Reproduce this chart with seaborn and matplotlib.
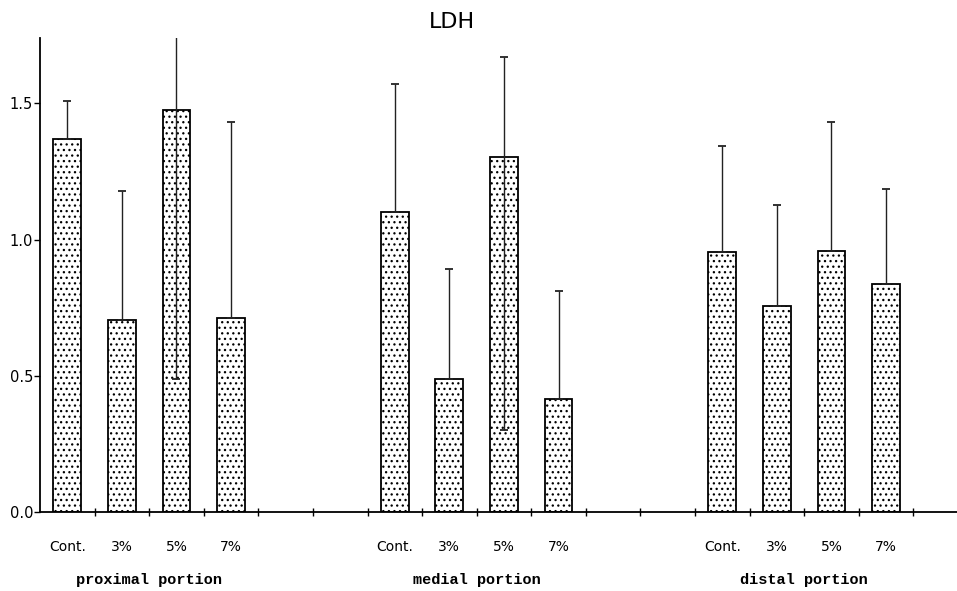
import numpy as np
import pandas as pd
import matplotlib
matplotlib.use('Agg')
import matplotlib.pyplot as plt
import matplotlib.transforms as mtransforms
import seaborn as sns

# values (LDH activity, bars = mean, whiskers = error)
portions = ['proximal portion', 'medial portion', 'distal portion']
concs = ['Cont.', '3%', '5%', '7%']
prox_mean = [1.368, 0.704, 1.474, 0.711]
med_mean = [1.100, 0.488, 1.305, 0.414]
dist_mean = [0.953, 0.755, 0.957, 0.836]
prox_err_up = [0.139, 0.473, 0.986, 0.719]
med_err_up = [0.470, 0.403, 0.367, 0.396]
dist_err_up = [0.389, 0.371, 0.473, 0.348]
prox_err_down = [0.0, 0.0, 0.986, 0.0]
med_err_down = [0.0, 0.0, 1.005, 0.0]
dist_err_down = [0.0, 0.0, 0.0, 0.0]

sns.set_theme(style='white')
plt.rcParams['font.family'] = ['DejaVu Sans']
plt.rcParams['text.color'] = 'black'
plt.rcParams['hatch.linewidth'] = 0.9

# build long table, each portion gets 4 slots then a 2 slot gap
rows = []
means = [prox_mean, med_mean, dist_mean]
ups = [prox_err_up, med_err_up, dist_err_up]
downs = [prox_err_down, med_err_down, dist_err_down]
for g, portion in enumerate(portions):
    for i, c in enumerate(concs):
        rows.append({'portion': portion, 'conc': c, 'pos': g * 6 + i + 0.5,
                     'value': means[g][i], 'up': ups[g][i], 'down': downs[g][i]})
df = pd.DataFrame(rows)

fig = plt.figure(figsize=(9.57, 5.91), dpi=100)
ax = fig.add_axes([40 / 957, 79 / 591, 917 / 957, 474 / 591])

sns.barplot(data=df, x='pos', y='value', native_scale=True, width=0.51,
            color='white', edgecolor='black', linewidth=1.3, hatch='...',
            errorbar=None, ax=ax)
for p in ax.patches:
    p.set_facecolor('white')
    p.set_edgecolor('black')

ax.errorbar(df['pos'], df['value'], yerr=[df['down'], df['up']], fmt='none',
            ecolor='#222222', elinewidth=1.0, capsize=2.8, capthick=1.3, zorder=3)

ax.set_xlim(0, 16.8)
ax.set_ylim(0, 1.74)
ax.set_xlabel('')
ax.set_ylabel('')

sns.despine(ax=ax)
for s in ['left', 'bottom']:
    ax.spines[s].set_color('black')
    ax.spines[s].set_linewidth(1.3)

ax.set_yticks([0.0, 0.5, 1.0, 1.5])
ax.set_yticklabels(['0.0', '0.5', '1.0', '1.5'])
ax.tick_params(axis='y', direction='out', length=4, width=1, colors='black',
               labelsize=10.5, pad=1, left=True)

ax.set_xticks(np.arange(1, 17))
ax.set_xticklabels([])
ax.tick_params(axis='x', which='major', direction='inout', length=6, width=1,
               colors='black', bottom=True)
ax.set_xticks(df['pos'], minor=True)
ax.set_xticklabels(df['conc'], minor=True)
ax.tick_params(axis='x', which='minor', length=0, pad=20, labelsize=10,
               labelcolor='black')

trans = mtransforms.blended_transform_factory(ax.transData, fig.transFigure)
for portion in portions:
    cx = df.loc[df['portion'] == portion, 'pos'].mean()
    ax.text(cx, 1 - 580 / 591, portion, transform=trans, ha='center', va='center',
            family='Liberation Mono', fontweight='bold', fontsize=11, color='black')

fig.text(452 / 957, 1 - 22 / 591, 'LDH', ha='center', va='center', fontsize=16,
         color='black')

fig.savefig('out.png', dpi=100)
